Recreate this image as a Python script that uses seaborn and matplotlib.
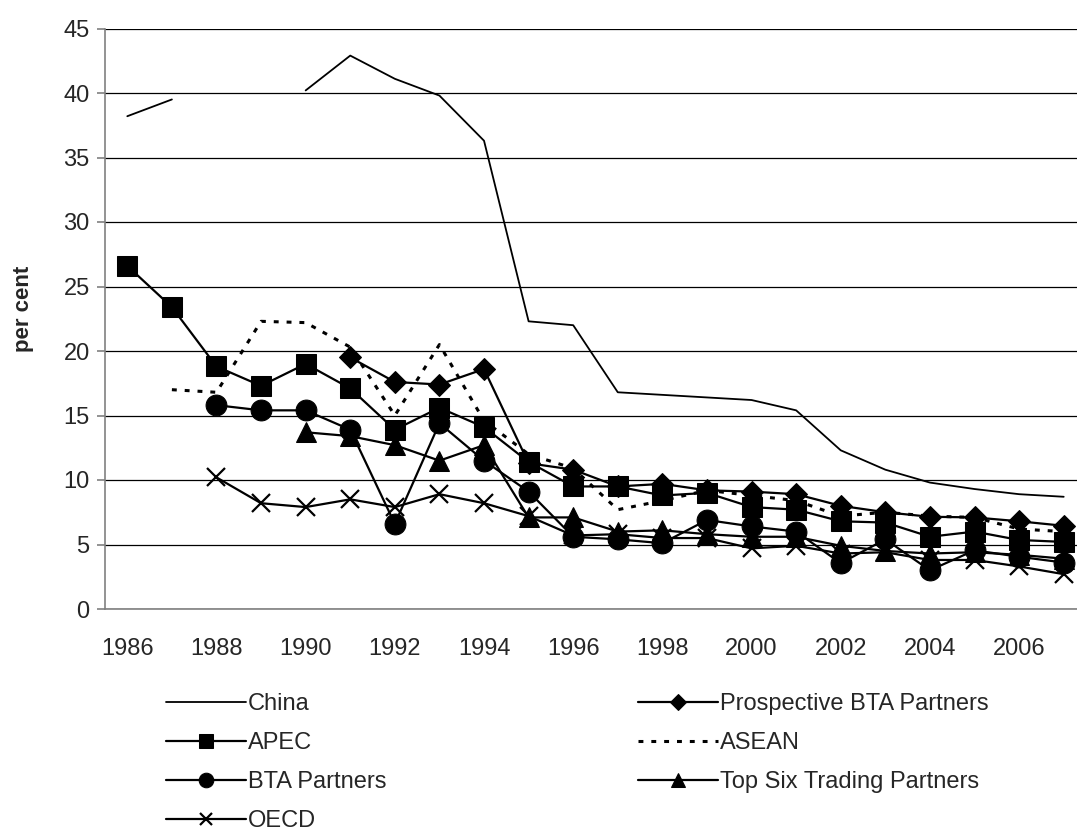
import numpy as np
import pandas as pd
import seaborn as sns
import matplotlib.pyplot as plt

nan = np.nan
years = list(range(1986, 2008))
china = [38.2, 39.5, nan, nan, 40.2, 42.9, 41.1, 39.8, 36.3, 22.3, 22.0,
         16.8, 16.6, 16.4, 16.2, 15.4, 12.3, 10.8, 9.8, 9.3, 8.9, 8.7]
prospective = [nan, nan, nan, nan, nan, 19.5, 17.6, 17.4, 18.6, 11.3, 10.8,
               9.5, 9.7, 9.2, 9.1, 8.9, 8.0, 7.5, 7.15, 7.1, 6.8, 6.45]
apec = [26.6, 23.4, 18.8, 17.3, 19.0, 17.1, 13.9, 15.6, 14.1, 11.4, 9.5,
        9.5, 8.8, 9.0, 7.9, 7.7, 6.8, 6.7, 5.6, 6.0, 5.35, 5.2]
asean = [nan, 17.0, 16.8, 22.3, 22.2, 20.3, 15.0, 20.5, 14.6, 12.0, 10.9,
         7.7, 8.4, 9.2, 8.8, 8.4, 7.2, 7.5, 7.2, 7.1, 6.2, 6.0]
bta = [nan, nan, 15.8, 15.4, 15.4, 13.9, 6.6, 14.4, 11.5, 9.1, 5.6,
       5.4, 5.1, 6.9, 6.4, 6.0, 3.55, 5.4, 3.0, 4.55, 4.05, 3.6]
top_six = [nan, nan, nan, nan, 13.7, 13.4, 12.7, 11.5, 12.7, 7.1, 7.1,
           6.0, 6.1, 5.8, 5.6, 5.6, 4.9, 4.5, 4.3, 4.4, 4.2, 3.9]
oecd = [nan, nan, 10.2, 8.2, 7.9, 8.5, 7.9, 8.9, 8.2, 7.2, 5.7,
        5.8, 5.5, 5.5, 4.7, 4.9, 4.3, 4.4, 3.8, 3.8, 3.3, 2.7]
xtick_years = list(range(1986, 2007, 2))

sns.set_style('white')
plt.rcParams['font.family'] = ['Liberation Sans', 'DejaVu Sans']

fig = plt.figure(figsize=(10.77, 8.34), dpi=100)
ax = fig.add_axes([105 / 1077, 1 - 609 / 834, 981 / 1077, 580.5 / 834])

# China has a gap (1988-1989), draw each piece as its own unit
df_china = pd.DataFrame({'year': years, 'val': china})
df_china['seg'] = df_china['val'].isna().cumsum()
df_china = df_china.dropna()
sns.lineplot(data=df_china, x='year', y='val', units='seg', estimator=None,
             color='black', linewidth=1.3, ax=ax)

series = [
    ('Prospective BTA Partners', prospective, dict(marker='D', markersize=11, linewidth=1.6)),
    ('APEC', apec, dict(marker='s', markersize=14, linewidth=1.6)),
    ('ASEAN', asean, dict(linestyle=(0, (1.6, 2.6)), linewidth=2.2)),
    ('BTA Partners', bta, dict(marker='o', markersize=15, linewidth=1.6)),
    ('Top Six Trading Partners', top_six, dict(marker='^', markersize=14, linewidth=1.6)),
    ('OECD', oecd, dict(marker='x', markersize=13, markeredgewidth=1.6, linewidth=1.6)),
]
for name, vals, kw in series:
    d = pd.DataFrame({'year': years, 'val': vals}).dropna()
    sns.lineplot(data=d, x='year', y='val', color='black', markeredgecolor='black',
                 label=name, ax=ax, **kw)

ax.set_xlim(1985.5, 2007.5)
ax.set_ylim(0, 45)
ax.set_yticks(range(0, 46, 5))
ax.set_xticks(xtick_years)
ax.set_xticks(np.arange(1985.5, 2008, 1), minor=True)
ax.set_xlabel('')
ax.set_ylabel('')
ax.yaxis.grid(True, color='black', linewidth=0.9)
ax.xaxis.grid(False)
ax.set_axisbelow(True)
for s in ['top', 'right']:
    ax.spines[s].set_visible(False)
for s in ['left', 'bottom']:
    ax.spines[s].set_color('#808080')
    ax.spines[s].set_linewidth(1.2)
ax.tick_params(axis='x', which='major', length=0, pad=21, labelsize=17)
ax.tick_params(axis='x', which='minor', length=6, width=1.2, color='#808080', direction='out')
ax.tick_params(axis='y', length=6, width=1.2, color='#808080', direction='out', pad=5, labelsize=17,
               left=True)
ax.get_legend().remove()

fig.text(24 / 1077, 1 - 309 / 834, 'per cent', rotation=90, ha='center', va='center',
         fontsize=16, fontweight='bold')

# legend: two separate columns below the plot
handles, labels = ax.get_legend_handles_labels()
hmap = dict(zip(labels, handles))
china_handle = plt.Line2D([], [], color='black', linewidth=1.3)
col1 = [(china_handle, 'China'), (hmap['APEC'], 'APEC'),
        (hmap['BTA Partners'], 'BTA Partners'), (hmap['OECD'], 'OECD')]
col2 = [(hmap['Prospective BTA Partners'], 'Prospective BTA Partners'),
        (hmap['ASEAN'], 'ASEAN'), (hmap['Top Six Trading Partners'], 'Top Six Trading Partners')]
leg_kw = dict(loc='upper left', frameon=False, fontsize=17, handlelength=3.4,
              handletextpad=0.08, labelspacing=0.72, borderpad=0, borderaxespad=0,
              markerscale=0.7)
fig.legend([h for h, _ in col1], [l for _, l in col1],
           bbox_to_anchor=(166 / 1077, 1 - 693 / 834), **leg_kw)
fig.legend([h for h, _ in col2], [l for _, l in col2],
           bbox_to_anchor=(638 / 1077, 1 - 693 / 834), **leg_kw)

fig.savefig('out.png', dpi=100)
